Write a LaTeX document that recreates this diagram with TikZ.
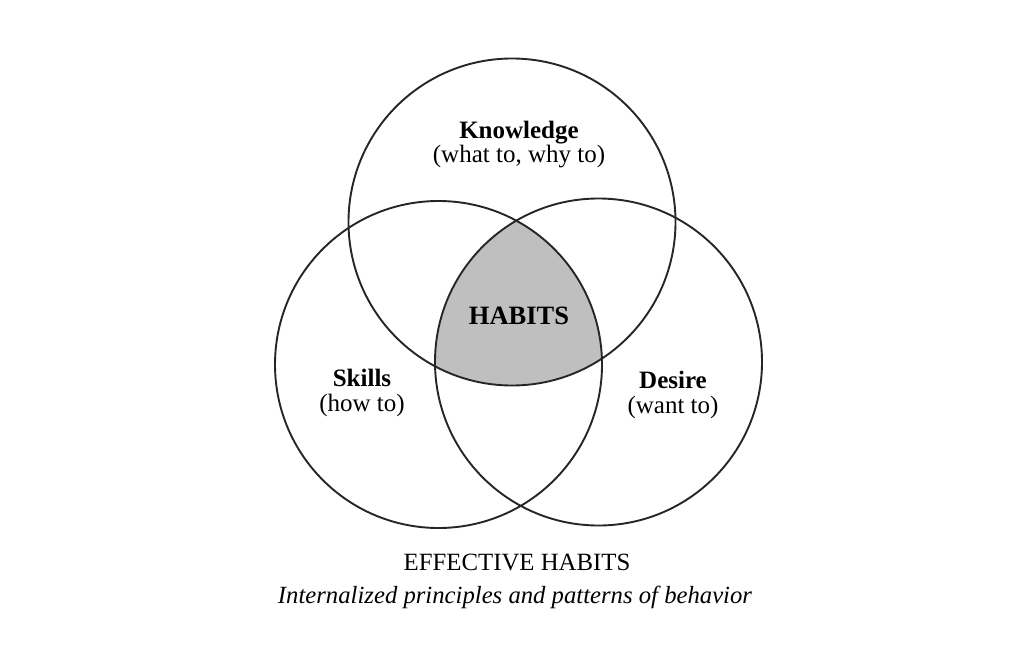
\documentclass[tikz,border=0pt]{standalone}
\usepackage{fontspec}
\setmainfont{Liberation Serif}
\begin{document}
\begin{tikzpicture}[x=1pt,y=-1pt,
  circ/.style={draw=black!85, line width=1.9pt},
  lbl/.style={font=\fontsize{25}{24.5}\selectfont, align=center, inner sep=0pt},
  title/.style={font=\fontsize{24.8}{28}\selectfont, inner sep=0pt}]
\useasboundingbox[fill=white] (0,0) rectangle (1024,658);
\def\R{163.5}
\coordinate (K) at (512,222);
\coordinate (S) at (438.5,364.5);
\coordinate (D) at (598.5,362);
\begin{scope}
  \clip (K) circle[radius=\R];
  \clip (S) circle[radius=\R];
  \fill[black!25] (D) circle[radius=\R];
\end{scope}
\draw[circ] (K) circle[radius=\R];
\draw[circ] (S) circle[radius=\R];
\draw[circ] (D) circle[radius=\R];
\node[lbl] (know) at (519,144.5) {\textbf{Knowledge}\\(what to, why to)};
\node[lbl, font=\fontsize{26.5}{30}\selectfont\bfseries] (habits) at (519,316) {HABITS};
\node[lbl] (skills) at (362,393) {\textbf{Skills}\\(how to)};
\node[lbl] (desire) at (673,395) {\textbf{Desire}\\(want to)};
\node[title] (eff) at (517,562) {EFFECTIVE HABITS};
\node[title, font=\fontsize{24.7}{28}\selectfont\itshape] (int) at (515,597) {Internalized principles and patterns of behavior};
\end{tikzpicture}
\end{document}
